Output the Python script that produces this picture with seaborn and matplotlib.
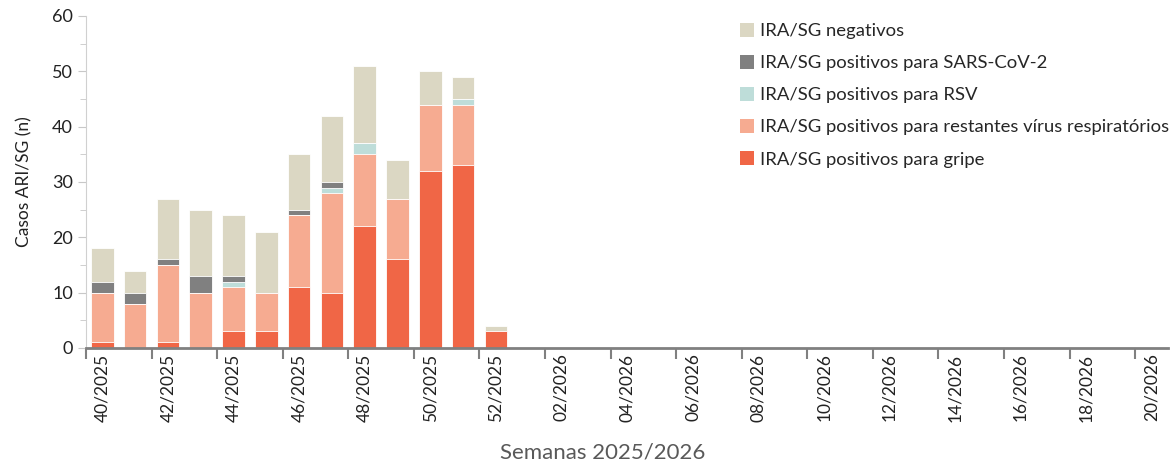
import pandas as pd
import seaborn as sns
import matplotlib.pyplot as plt
from matplotlib.patches import Patch

sns.set_style("white")
plt.rcParams['font.family'] = ['Lato', 'DejaVu Sans']

weeks = [f"{w}/2025" for w in range(40, 53)] + [f"{w:02d}/2026" for w in range(1, 21)]
gripe = [1, 0, 1, 0, 3, 3, 11, 10, 22, 16, 32, 33, 3] + [0] * 20
restantes = [9, 8, 14, 10, 8, 7, 13, 18, 13, 11, 12, 11, 0] + [0] * 20
rsv = [0, 0, 0, 0, 1, 0, 0, 1, 2, 0, 0, 1, 0] + [0] * 20
sars = [2, 2, 1, 3, 1, 0, 1, 1, 0, 0, 0, 0, 0] + [0] * 20
negativos = [6, 4, 11, 12, 11, 11, 10, 12, 14, 7, 6, 4, 1] + [0] * 20

labels = ['IRA/SG negativos', 'IRA/SG positivos para SARS-CoV-2', 'IRA/SG positivos para RSV',
          'IRA/SG positivos para restantes vírus respiratórios', 'IRA/SG positivos para gripe']
colors = ['#DBD7C3', '#808080', '#BEDDD9', '#F6AB91', '#F06646']

df = pd.DataFrame({'week': weeks, 'gripe': gripe, 'restantes': restantes,
                   'rsv': rsv, 'sars': sars, 'negativos': negativos})
# cumulative tops, stacked bottom -> top: gripe, restantes, rsv, sars, negativos
layers = ['gripe', 'restantes', 'rsv', 'sars', 'negativos']
cum = df[layers].cumsum(axis=1)

fig = plt.figure(figsize=(11.73, 4.66), dpi=100)
ax = fig.add_axes([86 / 1173, 1 - 348 / 466, 1082 / 1173, 332 / 466])

# draw tallest first so each shorter layer covers the bottom part
for col, c in zip(layers[::-1], colors):
    sns.barplot(x=df['week'], y=cum[col], order=weeks, color=c, width=0.69,
                edgecolor='white', linewidth=0.6, saturation=1, ax=ax)

ax.set_xlim(-0.5, len(weeks) - 0.5)
ax.set_ylim(0, 60)
ax.set_yticks(range(0, 61, 10))
ax.set_yticks(range(0, 61, 5), minor=True)
ax.tick_params(axis='y', which='both', direction='out', left=True, color='#c8c8c8',
               labelsize=13, labelcolor='#222222')
ax.tick_params(axis='y', which='major', length=6)
ax.tick_params(axis='y', which='minor', length=4)

# excel style: tick marks between categories, labels on the even weeks
ax.set_xticks([i - 0.5 for i in range(0, len(weeks), 2)])
ax.set_xticklabels([])
ax.set_xticks(range(0, len(weeks), 2), minor=True)
ax.set_xticklabels(weeks[::2], minor=True, rotation=90)
ax.tick_params(axis='x', which='major', bottom=True, direction='out', length=8,
               width=1.5, color='#808080')
ax.tick_params(axis='x', which='minor', bottom=True, length=0, labelsize=12.5,
               labelcolor='#222222', pad=4)

for s in ['top', 'right']:
    ax.spines[s].set_visible(False)
ax.spines['left'].set_color('#d0d0d0')
ax.spines['bottom'].set_color('#808080')
ax.spines['bottom'].set_linewidth(2)

ax.set_xlabel('Semanas 2025/2026', fontsize=16, color='#595959')
ax.xaxis.set_label_coords((603 - 86) / 1082, -0.285)
ax.set_ylabel('Casos ARI/SG (n)', fontsize=12.5, color='#222222', labelpad=14)

handles = [Patch(facecolor=c, edgecolor='none') for c in colors]
ax.legend(handles, labels, loc='upper left', bbox_to_anchor=(740 / 1173, 1 - 23 / 466),
          bbox_transform=fig.transFigure, frameon=False, fontsize=13.3,
          handlelength=0.75, handleheight=0.75, handletextpad=0.35, labelspacing=0.86,
          borderpad=0, borderaxespad=0)

plt.savefig('out.png', dpi=100)
